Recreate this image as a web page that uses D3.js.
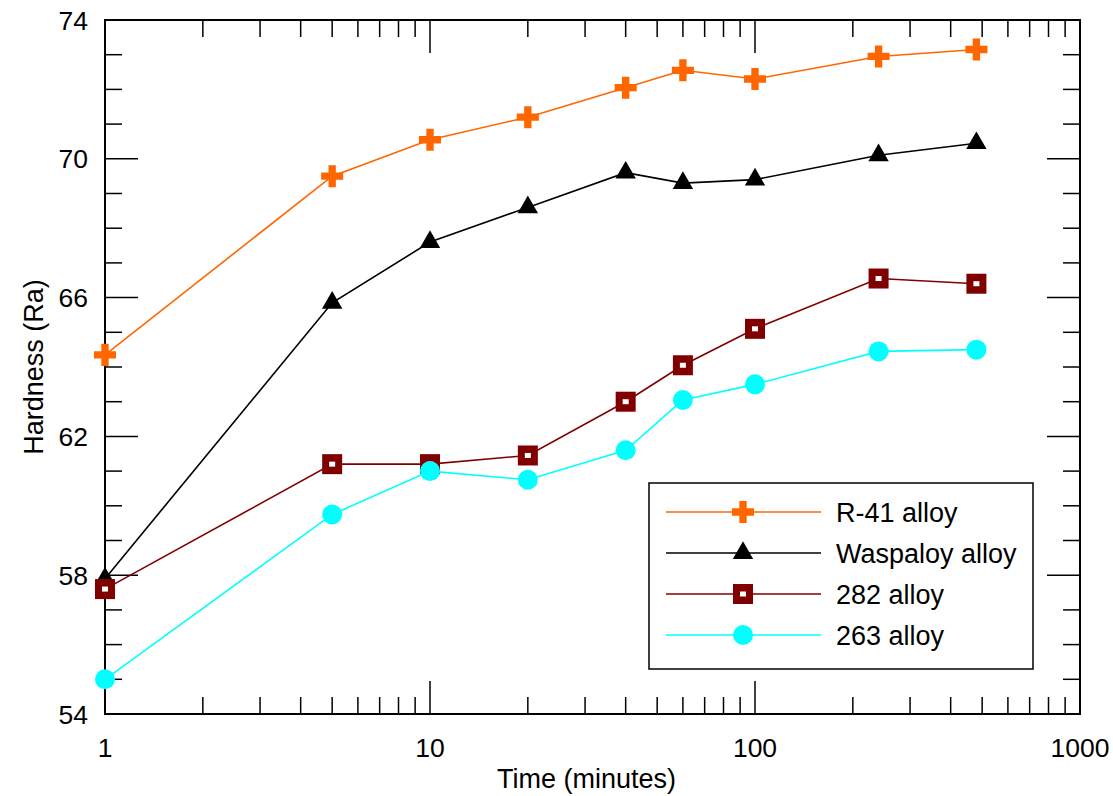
<!DOCTYPE html>
<html>
<head>
<meta charset="utf-8">
<script src="https://cdn.jsdelivr.net/npm/d3@7"></script>
<style>
  body { margin: 0; background: #fff; }
  svg { display: block; font-family: Arial, "Liberation Sans", sans-serif; }
</style>
</head>
<body>
<svg id="chart" width="1113" height="796"></svg>
<script>
const times = [1, 5, 10, 20, 40, 60, 100, 240, 480];
const r41 = [64.35, 69.5, 70.55, 71.2, 72.05, 72.55, 72.3, 72.95, 73.15];
const waspaloy = [57.9, 65.85, 67.6, 68.6, 69.6, 69.3, 69.4, 70.1, 70.45];
const alloy282 = [57.6, 61.2, 61.2, 61.45, 63.0, 64.05, 65.1, 66.55, 66.4];
const alloy263 = [55.0, 59.75, 61.0, 60.75, 61.6, 63.05, 63.5, 64.45, 64.5];
const seriesNames = ['R-41 alloy', 'Waspaloy alloy', '282 alloy', '263 alloy'];
const yTicks = [54, 58, 62, 66, 70, 74];
const xTicks = [1, 10, 100, 1000];

const width = 1113;
const height = 796;
const margin = { left: 105, right: 33, top: 20, bottom: 82 };

const series = [
  { name: seriesNames[0], values: r41, color: '#ff6600', marker: 'cross' },
  { name: seriesNames[1], values: waspaloy, color: '#000000', marker: 'triangle' },
  { name: seriesNames[2], values: alloy282, color: '#800000', marker: 'square' },
  { name: seriesNames[3], values: alloy263, color: '#00ffff', marker: 'circle' },
];

const x = d3.scaleLog().domain([1, 1000]).range([margin.left, width - margin.right]);
const y = d3.scaleLinear().domain([54, 74]).range([height - margin.bottom, margin.top]);

const svg = d3.select('#chart');

// minor/major ticks, pointing inward on all four sides
const xMinor = [];
for (let d = 1; d < 1000; d *= 10) for (let k = 2; k <= 9; k++) xMinor.push(d * k);
const yMinor = d3.range(55, 74).filter((v) => (v - 54) % 4 !== 0);
const bigT = 33, smallT = 17;
const ticks = svg.append('g').attr('stroke', '#000').attr('stroke-width', 1.5);
const x0 = x.range()[0], x1 = x.range()[1], y0 = y.range()[0], y1 = y.range()[1];

xMinor.concat(xTicks).forEach((v) => {
  const len = xTicks.includes(v) ? bigT : smallT;
  ticks.append('line').attr('x1', x(v)).attr('x2', x(v)).attr('y1', y0).attr('y2', y0 - len);
  ticks.append('line').attr('x1', x(v)).attr('x2', x(v)).attr('y1', y1).attr('y2', y1 + len);
});
yMinor.concat(yTicks).forEach((v) => {
  const len = yTicks.includes(v) ? bigT : smallT;
  ticks.append('line').attr('x1', x0).attr('x2', x0 + len).attr('y1', y(v)).attr('y2', y(v));
  ticks.append('line').attr('x1', x1).attr('x2', x1 - len).attr('y1', y(v)).attr('y2', y(v));
});

svg.append('rect')
  .attr('x', x0).attr('y', y1)
  .attr('width', x1 - x0).attr('height', y0 - y1)
  .attr('fill', 'none').attr('stroke', '#000').attr('stroke-width', 2);

// tick labels
svg.append('g').selectAll('text').data(xTicks).join('text')
  .attr('x', (d) => x(d)).attr('y', y0 + 43)
  .attr('text-anchor', 'middle').attr('font-size', 26.5)
  .text((d) => d);
svg.append('g').selectAll('text').data(yTicks).join('text')
  .attr('x', x0 - 17).attr('y', (d) => y(d))
  .attr('dy', '0.36em')
  .attr('text-anchor', 'end').attr('font-size', 26.5)
  .text((d) => d);

// axis titles
svg.append('text')
  .attr('x', (x0 + x1) / 2 - 6).attr('y', 788)
  .attr('text-anchor', 'middle').attr('font-size', 27)
  .text('Time (minutes)');
svg.append('text')
  .attr('transform', `translate(43,${(y0 + y1) / 2}) rotate(-90)`)
  .attr('text-anchor', 'middle').attr('font-size', 27)
  .text('Hardness (Ra)');

function drawMarker(g, type, color) {
  if (type === 'cross') {
    g.append('path').attr('d', d3.symbol(d3.symbolCross, 270)()).attr('fill', color);
  } else if (type === 'triangle') {
    g.append('path').attr('d', d3.symbol(d3.symbolTriangle, 180)()).attr('fill', color);
  } else if (type === 'square') {
    g.append('rect').attr('x', -10).attr('y', -10).attr('width', 20).attr('height', 20).attr('fill', color);
    g.append('rect').attr('x', -3).attr('y', -2.5).attr('width', 6).attr('height', 5).attr('fill', '#fff');
  } else {
    g.append('circle').attr('r', 10).attr('fill', color);
  }
}

const line = d3.line().x((d) => x(d[0])).y((d) => y(d[1]));

series.forEach((s) => {
  const pts = times.map((t, i) => [t, s.values[i]]);
  svg.append('path').datum(pts)
    .attr('d', line).attr('fill', 'none')
    .attr('stroke', s.color).attr('stroke-width', 1.6);
  pts.forEach((p) => {
    const g = svg.append('g').attr('transform', `translate(${x(p[0])},${y(p[1])})`);
    drawMarker(g, s.marker, s.color);
  });
});

// legend
const legend = svg.append('g');
legend.append('rect')
  .attr('x', 649).attr('y', 483).attr('width', 384).attr('height', 186)
  .attr('fill', '#fff').attr('stroke', '#000').attr('stroke-width', 1.5);
series.forEach((s, i) => {
  const ly = 512 + i * 41;
  legend.append('line').attr('x1', 666).attr('x2', 821).attr('y1', ly).attr('y2', ly)
    .attr('stroke', s.color).attr('stroke-width', 1.6);
  const g = legend.append('g').attr('transform', `translate(743,${ly})`);
  drawMarker(g, s.marker, s.color);
  legend.append('text').attr('x', 836).attr('y', ly).attr('dy', '0.36em')
    .attr('font-size', 27).text(s.name);
});
</script>
</body>
</html>
